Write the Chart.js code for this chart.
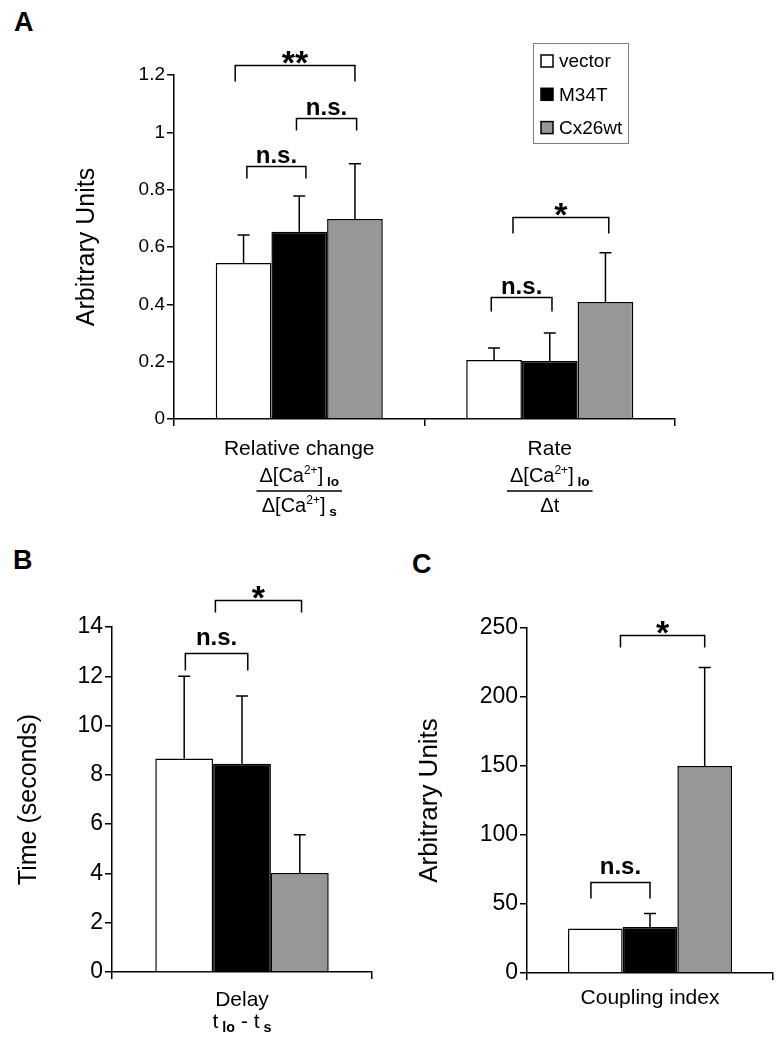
<!DOCTYPE html>
<html>
<head>
<meta charset="utf-8">
<script src="https://cdn.jsdelivr.net/npm/chart.js@4.4.0/dist/chart.umd.min.js"></script>
<style>
  body { margin: 0; background: #fff; width: 783px; height: 1050px; position: relative; overflow: hidden; }
  canvas { position: absolute; }
  .tag { position: absolute; font: bold 27px "Liberation Sans", Arial, sans-serif; line-height: 1; }
</style>
</head>
<body>
<div class="tag" style="left:14px;top:9px">A</div>
<div class="tag" style="left:13px;top:547px">B</div>
<div class="tag" style="left:412px;top:551px">C</div>
<canvas id="chartA" width="783" height="530" style="left:0;top:0"></canvas>
<canvas id="chartB" width="390" height="520" style="left:0;top:530px"></canvas>
<canvas id="chartC" width="393" height="520" style="left:390px;top:530px"></canvas>
<script>
const FAM = '"Liberation Sans", Arial, sans-serif';

const seriesNames = ['vector', 'M34T', 'Cx26wt'];
const seriesColors = ['#ffffff', '#000000', '#979797'];

// Panel A
const categoriesA = ['Relative change', 'Rate'];
const vectorA = [0.544, 0.206];
const m34tA = [0.653, 0.202];
const cx26wtA = [0.698, 0.408];
const vectorErrA = [0.098, 0.042];
const m34tErrA = [0.125, 0.098];
const cx26wtErrA = [0.192, 0.172];
const yTicksA = [0, 0.2, 0.4, 0.6, 0.8, 1, 1.2];
const yTickLabelsA = ['0', '0.2', '0.4', '0.6', '0.8', '1', '1.2'];

// Panel B
const categoriesB = ['Delay'];
const vectorB = [8.66];
const m34tB = [8.45];
const cx26wtB = [4.02];
const vectorErrB = [3.34];
const m34tErrB = [2.75];
const cx26wtErrB = [1.55];
const yTicksB = [0, 2, 4, 6, 8, 10, 12, 14];
const yTickLabelsB = ['0', '2', '4', '6', '8', '10', '12', '14'];

// Panel C
const categoriesC = ['Coupling index'];
const vectorC = [32.2];
const m34tC = [33.4];
const cx26wtC = [150];
const vectorErrC = [0];
const m34tErrC = [9.7];
const cx26wtErrC = [71.3];
const yTicksC = [0, 50, 100, 150, 200, 250];
const yTickLabelsC = ['0', '50', '100', '150', '200', '250'];

// significance brackets: from/to in bar-index units inside a group, level in data units
const bracketsA = [
  { group: 0, from: -0.15, to: 2.0, level: 1.236, leg: 16, text: '**' },
  { group: 0, from: 0.06, to: 1.12, level: 0.883, leg: 12, text: 'n.s.' },
  { group: 0, from: 0.95, to: 2.03, level: 1.051, leg: 12, text: 'n.s.' },
  { group: 1, from: 0.34, to: 2.06, level: 0.705, leg: 16, text: '*' },
  { group: 1, from: -0.05, to: 1.04, level: 0.426, leg: 14, text: 'n.s.' }
];
const bracketsB = [
  { group: 0, from: 0.02, to: 1.1, level: 12.93, leg: 17, text: 'n.s.' },
  { group: 0, from: 0.54, to: 2.03, level: 15.08, leg: 12, text: '*' }
];
const bracketsC = [
  { group: 0, from: -0.08, to: 1.0, level: 66, leg: 16, text: 'n.s.' },
  { group: 0, from: 0.46, to: 2.0, level: 245, leg: 12, text: '*' }
];

// rich x labels under the axis
const ratioLo = [['Δ[Ca', 'n'], ['2+', 'sup'], [']', 'n'], [' lo', 'sub']];
const xLabelsA = [
  { num: ratioLo, den: [['Δ[Ca', 'n'], ['2+', 'sup'], [']', 'n'], [' s', 'sub']] },
  { num: ratioLo, den: [['Δt', 'n']] }
];
const xLabelsB = [{ sub: [['t', 'n'], [' lo', 'sub'], [' - t', 'n'], [' s', 'sub']] }];
const xLabelsC = [{}];

Chart.defaults.font.family = FAM;
Chart.defaults.color = '#000';

const richStyles = {
  n: { scale: 1, bold: false, dy: 0 },
  sup: { scale: 0.6, bold: false, dy: -0.42 },
  sub: { scale: 0.68, bold: true, dy: 0.18 }
};

function drawRich(ctx, parts, cx, y, size) {
  let total = 0;
  const measured = parts.map(([txt, st]) => {
    const s = richStyles[st];
    const font = (s.bold ? 'bold ' : '') + (size * s.scale).toFixed(1) + 'px ' + FAM;
    ctx.font = font;
    const w = ctx.measureText(txt).width;
    total += w;
    return { txt, s, w, font };
  });
  let x = cx - total / 2;
  measured.forEach(m => {
    ctx.font = m.font;
    ctx.fillText(m.txt, x, y + m.s.dy * size);
    x += m.w;
  });
  return total;
}

const errorBars = {
  id: 'errorBars',
  afterDatasetsDraw(chart) {
    const ctx = chart.ctx, y = chart.scales.y;
    ctx.save();
    ctx.strokeStyle = '#000';
    ctx.lineWidth = 1.5;
    chart.data.datasets.forEach((ds, i) => {
      chart.getDatasetMeta(i).data.forEach((bar, j) => {
        const e = ds.errors[j];
        if (!e) return;
        const top = y.getPixelForValue(ds.data[j] + e);
        ctx.beginPath();
        ctx.moveTo(bar.x, bar.y);
        ctx.lineTo(bar.x, top);
        ctx.moveTo(bar.x - 6, top);
        ctx.lineTo(bar.x + 6, top);
        ctx.stroke();
      });
    });
    ctx.restore();
  }
};

const sigBrackets = {
  id: 'sigBrackets',
  afterDraw(chart, args, opts) {
    const ctx = chart.ctx, y = chart.scales.y;
    ctx.save();
    ctx.strokeStyle = '#000';
    ctx.fillStyle = '#000';
    ctx.lineWidth = 1.5;
    ctx.textAlign = 'center';
    ctx.textBaseline = 'alphabetic';
    (opts.items || []).forEach(b => {
      const xs = chart.data.datasets.map((d, i) => chart.getDatasetMeta(i).data[b.group].x);
      const step = xs[1] - xs[0];
      const x1 = xs[0] + b.from * step;
      const x2 = xs[0] + b.to * step;
      const yl = Math.round(y.getPixelForValue(b.level)) + 0.5;
      ctx.beginPath();
      ctx.moveTo(x1, yl + b.leg);
      ctx.lineTo(x1, yl);
      ctx.lineTo(x2, yl);
      ctx.lineTo(x2, yl + b.leg);
      ctx.stroke();
      const star = b.text.indexOf('*') >= 0;
      ctx.font = 'bold ' + (star ? 34 : 24) + 'px ' + FAM;
      ctx.fillText(b.text, (x1 + x2) / 2, star ? yl + 8 : yl - opts.gap);
    });
    ctx.restore();
  }
};

const xLabels = {
  id: 'xLabels',
  afterDraw(chart, args, opts) {
    const ctx = chart.ctx, xs = chart.scales.x, base = xs.top;
    ctx.save();
    ctx.fillStyle = '#000';
    ctx.strokeStyle = '#000';
    ctx.textBaseline = 'alphabetic';
    (opts.items || []).forEach((it, g) => {
      const cx = xs.getPixelForValue(g);
      ctx.font = opts.titleSize + 'px ' + FAM;
      ctx.textAlign = 'center';
      ctx.fillText(chart.data.labels[g], cx, base + opts.titleDy);
      ctx.textAlign = 'left';
      if (it.num) {
        const w1 = drawRich(ctx, it.num, cx, base + opts.numDy, opts.fracSize);
        const w2 = drawRich(ctx, it.den, cx, base + opts.denDy, opts.fracSize);
        const half = Math.max(w1, w2) / 2 + 3;
        ctx.lineWidth = 1.5;
        ctx.beginPath();
        ctx.moveTo(cx - half, base + opts.lineDy);
        ctx.lineTo(cx + half, base + opts.lineDy);
        ctx.stroke();
      }
      if (it.sub) drawRich(ctx, it.sub, cx, base + opts.subDy, opts.subSize);
    });
    ctx.restore();
  }
};

const boxLegend = {
  id: 'boxLegend',
  afterDraw(chart, args, opts) {
    if (!opts.box) return;
    const ctx = chart.ctx, b = opts.box;
    ctx.save();
    ctx.strokeStyle = '#808080';
    ctx.lineWidth = 1;
    ctx.strokeRect(b.x + 0.5, b.y + 0.5, b.w, b.h);
    ctx.textBaseline = 'middle';
    ctx.textAlign = 'left';
    chart.data.datasets.forEach((ds, i) => {
      const cy = b.y + opts.rowTop + i * opts.rowGap;
      ctx.fillStyle = ds.backgroundColor;
      ctx.fillRect(b.x + 8, cy - 6, 12, 12);
      ctx.strokeStyle = '#000';
      ctx.lineWidth = 1.5;
      ctx.strokeRect(b.x + 8, cy - 6, 12, 12);
      ctx.fillStyle = '#000';
      ctx.font = '19px ' + FAM;
      ctx.fillText(ds.label, b.x + 26, cy + 1);
    });
    ctx.restore();
  }
};

function makePanel(id, p) {
  const canvas = document.getElementById(id);
  const W = canvas.width, H = canvas.height;
  const datasets = p.values.map((vals, i) => ({
    label: seriesNames[i],
    data: vals,
    errors: p.errors[i],
    backgroundColor: seriesColors[i],
    borderColor: '#000',
    borderWidth: 1.5,
    categoryPercentage: 0.667,
    barPercentage: 1.0
  }));
  return new Chart(canvas, {
    type: 'bar',
    data: { labels: p.categories, datasets },
    plugins: [errorBars, sigBrackets, xLabels, boxLegend],
    options: {
      responsive: false,
      animation: false,
      events: [],
      layout: { padding: { left: 0, top: p.area.top, right: W - p.area.right, bottom: 0 } },
      scales: {
        x: {
          offset: true,
          grid: { display: true, offset: true, drawOnChartArea: false, drawTicks: true, tickLength: 7, color: '#000', lineWidth: 1.5 },
          border: { display: true, color: '#000', width: 1.5 },
          ticks: { display: false },
          afterFit: s => { s.height = H - p.area.bottom; }
        },
        y: {
          min: p.yTicks[0],
          max: p.yTicks[p.yTicks.length - 1],
          afterBuildTicks: s => { s.ticks = p.yTicks.map(v => ({ value: v })); },
          afterFit: s => { s.width = p.area.left; },
          grid: { display: true, drawOnChartArea: false, drawTicks: true, tickLength: 7, color: '#000', lineWidth: 1.5 },
          border: { display: true, color: '#000', width: 1.5 },
          ticks: {
            autoSkip: false,
            padding: 2,
            font: { size: p.tickSize },
            color: '#000',
            callback: (v, i) => p.yTickLabels[i]
          },
          title: {
            display: true,
            text: p.yTitle,
            color: '#000',
            font: { size: p.titleSize },
            padding: { top: p.titlePad, bottom: 0 }
          }
        }
      },
      plugins: {
        legend: { display: false },
        tooltip: { enabled: false },
        sigBrackets: { items: p.brackets, gap: p.textGap },
        xLabels: Object.assign({ items: p.xLabels }, p.xLabelPos),
        boxLegend: p.legend || {}
      }
    }
  });
}

makePanel('chartA', {
  area: { left: 174, top: 75, right: 675, bottom: 419 },
  categories: categoriesA,
  values: [vectorA, m34tA, cx26wtA],
  errors: [vectorErrA, m34tErrA, cx26wtErrA],
  yTicks: yTicksA,
  yTickLabels: yTickLabelsA,
  yTitle: 'Arbitrary Units',
  tickSize: 19,
  titleSize: 25,
  titlePad: 72,
  brackets: bracketsA,
  textGap: 4,
  xLabels: xLabelsA,
  xLabelPos: { titleSize: 21, titleDy: 36, fracSize: 20, numDy: 63, lineDy: 72, denDy: 93 },
  legend: { box: { x: 533, y: 43, w: 95, h: 100 }, rowTop: 18, rowGap: 33.3 }
});

makePanel('chartB', {
  area: { left: 112, top: 97, right: 372, bottom: 442 },
  categories: categoriesB,
  values: [vectorB, m34tB, cx26wtB],
  errors: [vectorErrB, m34tErrB, cx26wtErrB],
  yTicks: yTicksB,
  yTickLabels: yTickLabelsB,
  yTitle: 'Time (seconds)',
  tickSize: 23,
  titleSize: 25,
  titlePad: 14,
  brackets: bracketsB,
  textGap: 9,
  xLabels: xLabelsB,
  xLabelPos: { titleSize: 21, titleDy: 34, subSize: 21, subDy: 56 }
});

makePanel('chartC', {
  area: { left: 137, top: 98, right: 383, bottom: 443 },
  categories: categoriesC,
  values: [vectorC, m34tC, cx26wtC],
  errors: [vectorErrC, m34tErrC, cx26wtErrC],
  yTicks: yTicksC,
  yTickLabels: yTickLabelsC,
  yTitle: 'Arbitrary Units',
  tickSize: 23,
  titleSize: 26,
  titlePad: 24,
  brackets: bracketsC,
  textGap: 9,
  xLabels: xLabelsC,
  xLabelPos: { titleSize: 21, titleDy: 31 }
});
</script>
</body>
</html>
